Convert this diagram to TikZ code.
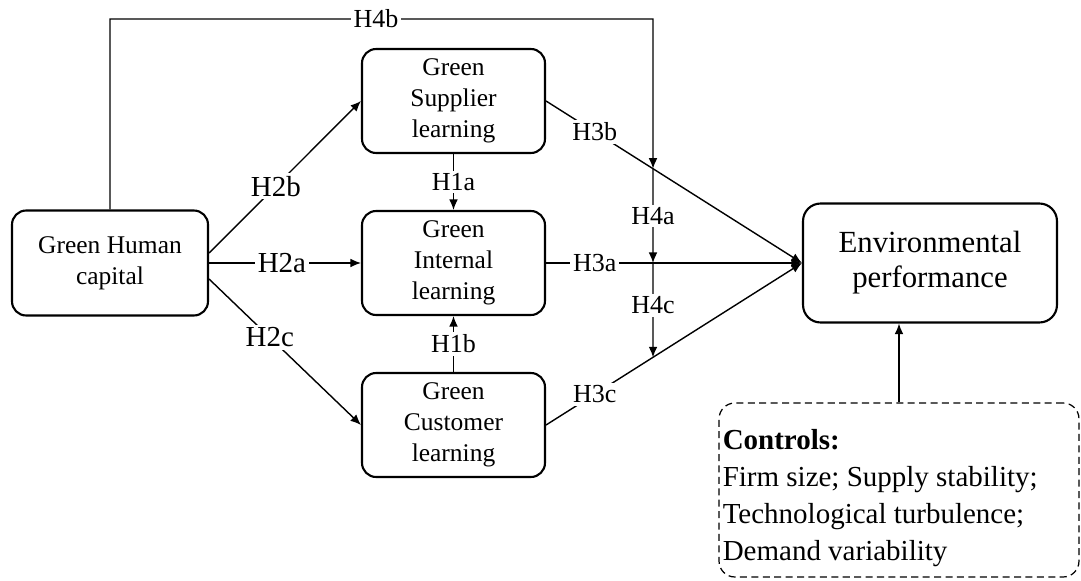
\documentclass[tikz,border=0pt]{standalone}
\usepackage{fontspec}
\setmainfont{Liberation Serif}
\usetikzlibrary{arrows.meta}

\tikzset{
    box/.style={draw, line width=1.2pt, rounded corners=8pt, align=center,
        minimum width=3.66cm, minimum height=2.08cm, inner sep=2pt,
        font=\fontsize{14.5}{17.6}\selectfont},
    link/.style={line width=0.8pt, -{Latex[length=6pt,width=5pt]}},
    hyp/.style={fill=white, inner sep=1.5pt, font=\fontsize{14.8}{18}\selectfont},
    hypbig/.style={hyp, font=\fontsize{16.5}{18}\selectfont},
}

\begin{document}
\begin{tikzpicture}[x=0.02cm, y=-0.02cm]
    \useasboundingbox (0,0) rectangle (1081,581);
    % constructs
    \node[box, minimum width=3.92cm, minimum height=2.1cm] (hum) at (110,263) {Green Human\\capital};
    \node[box] (sup) at (453.5,101) {Green\\Supplier\\learning};
    \node[box] (int) at (453.5,263) {Green\\Internal\\learning};
    \node[box] (cus) at (453.5,425) {Green\\Customer\\learning};
    \node[box, minimum width=5.08cm, minimum height=2.38cm, rounded corners=10pt,
        font=\fontsize{17.5}{20}\selectfont] (env) at (930,263) {Environmental\\performance};
    \node[draw, line width=0.7pt, dash pattern=on 4pt off 2.5pt, rounded corners=9pt,
        minimum width=7.2cm, minimum height=3.48cm] (ctl) at (899,490) {};
    \node[anchor=north west, align=left, inner sep=0pt, font=\fontsize{16.5}{21}\selectfont]
        (ctltxt) at ([shift={(4,27)}]ctl.north west)
        {\textbf{Controls:}\\Firm size; Supply stability;\\Technological turbulence;\\Demand variability};

    % moderation points
    \coordinate (mx) at (653,0);
    \coordinate (top) at (0,19);
    \coordinate (m3b) at (intersection of sup.east--env.west and 653,0--653,600);
    \coordinate (m3a) at (mx |- env.west);
    \coordinate (m3c) at (intersection of cus.east--env.west and 653,0--653,600);

    % paths
    \draw[link] ([yshift=0.2cm]hum.east) -- node[hypbig, pos=0.44] {H2b} (sup.west);
    \draw[link] (hum.east) -- node[hypbig, pos=0.48] {H2a} (int.west);
    \draw[link] ([yshift=-0.32cm]hum.east) -- node[hypbig, pos=0.4] {H2c} (cus.west);
    \draw[link] (sup.south) -- node[hyp] {H1a} (int.north);
    \draw[link] (cus.north) -- node[hyp] {H1b} (int.south);
    \draw[link] (sup.east) -- node[hyp, pos=0.19] {H3b} (env.west);
    \draw[link] (int.east) -- node[hyp, pos=0.19] {H3a} (env.west);
    \draw[link] (cus.east) -- node[hyp, pos=0.19] {H3c} (env.west);
    \draw[link] (hum.north) -- (hum.north |- top) -- node[hyp, pos=0.49] {H4b} (mx |- top) -- (m3b);
    \draw[link] (m3b) -- node[hyp] {H4a} (m3a);
    \draw[link] (m3a) -- node[hyp, pos=0.45] {H4c} (m3c);
    \draw[link] (ctl.north) -- (ctl.north |- env.south);
\end{tikzpicture}
\end{document}
